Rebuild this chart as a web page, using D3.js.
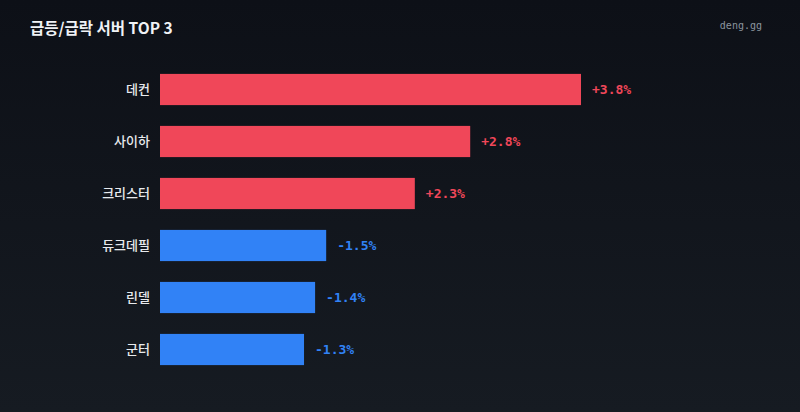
<!DOCTYPE html>
<html><head><meta charset="utf-8">
<script src="https://cdn.jsdelivr.net/npm/d3@7"></script>
<style>html,body{margin:0;padding:0;background:#0e1117;}</style>
</head><body>
<script>
const servers = ["데컨", "사이하", "크리스터", "듀크데필", "린델", "군터"];
const changes = [3.8, 2.8, 2.3, -1.5, -1.4, -1.3];
const valueLabels = ["+3.8%", "+2.8%", "+2.3%", "-1.5%", "-1.4%", "-1.3%"];
const title = "급등/급락 서버 TOP 3";
const brand = "deng.gg";

const W = 800, H = 412;
const svg = d3.select("body").append("svg").attr("width", W).attr("height", H);
const defs = svg.append("defs");
const g = defs.append("linearGradient").attr("id","bg").attr("x1",0).attr("y1",0).attr("x2",0).attr("y2",1);
g.append("stop").attr("offset","0%").attr("stop-color","#0d1017");
g.append("stop").attr("offset","100%").attr("stop-color","#161b22");
svg.append("rect").attr("width",W).attr("height",H).attr("fill","url(#bg)");

svg.append("text").attr("x",30).attr("y",34).text(title)
  .attr("fill","#f0f2f5").attr("font-family","'Noto Sans CJK KR', 'Noto Sans', sans-serif")
  .attr("font-size",15.5).attr("font-weight",700);
svg.append("text").attr("x",762).attr("y",29).attr("text-anchor","end").text(brand)
  .attr("fill","#8b949e").attr("font-family","'DejaVu Sans Mono', monospace").attr("font-size",10);

const data = servers.map((s,i)=>({name:s, v:changes[i], label:valueLabels[i]}));
const x = d3.scaleLinear().domain([0, d3.max(changes, d=>Math.abs(d))]).range([160, 581]);
const y = d3.scaleBand().domain(servers).range([63.5, 375.5]).paddingInner(0.4).paddingOuter(0.2);

const rows = svg.append("g").selectAll("g").data(data).join("g");
rows.append("rect").attr("x", x(0)).attr("y", d=>y(d.name))
  .attr("width", d=>x(Math.abs(d.v))-x(0)).attr("height", y.bandwidth())
  .attr("fill", d=>d.v>=0 ? "#f04759" : "#3182f6");
rows.append("text").attr("x", x(0)-10).attr("y", d=>y(d.name)+y.bandwidth()/2)
  .attr("dy","0.35em").attr("text-anchor","end").text(d=>d.name)
  .attr("fill","#e8eaed").attr("font-family","'Noto Sans CJK KR', sans-serif")
  .attr("font-size",13).attr("font-weight",500);
rows.append("text").attr("x", d=>x(Math.abs(d.v))+11).attr("y", d=>y(d.name)+y.bandwidth()/2)
  .attr("dy","0.35em").text(d=>d.label)
  .attr("fill", d=>d.v>=0 ? "#f04759" : "#3182f6")
  .attr("font-family","'DejaVu Sans Mono', monospace").attr("font-size",13).attr("font-weight",700);
</script>
</body></html>
